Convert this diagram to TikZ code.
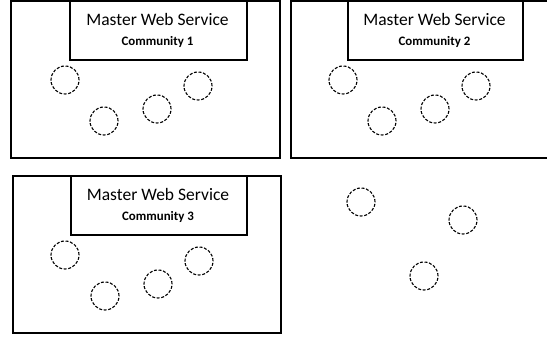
\documentclass[tikz,border=0pt]{standalone}
\usepackage{fontspec}
\setmainfont{Carlito}
\begin{document}
\begin{tikzpicture}[x=1pt,y=-1pt,
  community/.style={draw=black, line width=2pt, anchor=north west, inner sep=0pt},
  master/.style={draw=black, line width=1.8pt, fill=white, anchor=north west, inner sep=0pt},
  title/.style={font=\fontsize{17.5}{20}\selectfont, inner sep=0pt},
  subtitle/.style={font=\fontsize{12.9}{15}\selectfont\bfseries, inner sep=0pt},
  peer/.style={circle, draw=black, line width=1.1pt, dash pattern=on 3pt off 1.6pt, minimum size=28pt, inner sep=0pt}]
\useasboundingbox (0,0) rectangle (547,339);

% community 1
\node[community, minimum width=269pt, minimum height=157pt] (b1) at (10,0) {};
\node[master, minimum width=177pt, minimum height=59pt] (m1) at (69,0) {};
\node[title] (t1) at (157.5,19) {Master Web Service};
\node[subtitle] (s1) at (157.5,42) {Community 1};
\node[peer] (c11) at (65,80) {};
\node[peer] (c12) at (104,121) {};
\node[peer] (c13) at (157,109) {};
\node[peer] (c14) at (198,86) {};

% community 2 (runs off the right edge)
\node[community, minimum width=280pt, minimum height=157pt] (b2) at (290,0) {};
\node[master, minimum width=175pt, minimum height=59pt] (m2) at (347,0) {};
\node[title] (t2) at (434.5,19) {Master Web Service};
\node[subtitle] (s2) at (434.5,42) {Community 2};
\node[peer] (c21) at (343,80) {};
\node[peer] (c22) at (382,121) {};
\node[peer] (c23) at (435,109) {};
\node[peer] (c24) at (476,86) {};

% community 3
\node[community, minimum width=268pt, minimum height=157pt] (b3) at (12,175) {};
\node[master, minimum width=176pt, minimum height=59pt] (m3) at (70,175) {};
\node[title] (t3) at (158,194) {Master Web Service};
\node[subtitle] (s3) at (158,217) {Community 3};
\node[peer] (c31) at (65,255) {};
\node[peer] (c32) at (105,296) {};
\node[peer] (c33) at (158,284) {};
\node[peer] (c34) at (199,261) {};

% services outside any community
\node[peer] (f1) at (361,202) {};
\node[peer] (f2) at (463,220) {};
\node[peer] (f3) at (424,276) {};
\end{tikzpicture}
\end{document}
